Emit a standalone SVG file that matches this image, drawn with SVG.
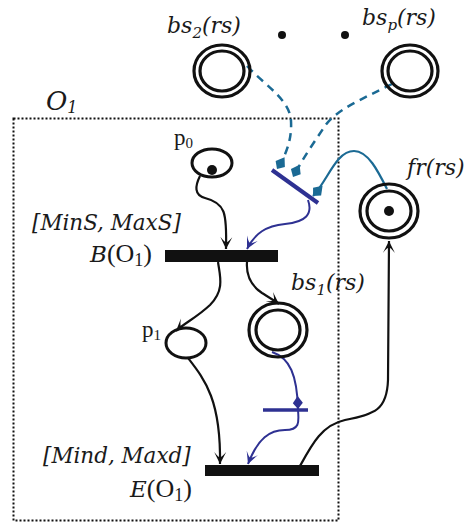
<svg xmlns="http://www.w3.org/2000/svg" width="464" height="523" viewBox="0 0 464 523">
<style>
  .lbl{font-family:'Liberation Serif','Times New Roman',serif;fill:#1a1a1a}
  .it{font-family:'DejaVu Serif',serif;font-style:italic}
  .place{fill:none;stroke:#111;stroke-width:3}
  .dbl{fill:none;stroke:#111;stroke-width:3.2}
  .tok{fill:#111}
  .bar{fill:#111}
  .arc{fill:none;stroke:#111;stroke-width:2.2}
  .blue{fill:none;stroke:#2e3192;stroke-width:2}
  .teal{fill:none;stroke:#1b6a94;stroke-width:2.2}
  .dash{fill:none;stroke:#1b6a94;stroke-width:2.5;stroke-dasharray:8,6}
</style>
<defs>
  <marker id="ahK" viewBox="-13 -7 14 14" refX="0" refY="0" markerWidth="14" markerHeight="14" markerUnits="userSpaceOnUse" orient="auto">
    <path d="M0,0 L-12,-6 Q-6,-1 -7,0 Q-6,1 -12,6 Z" fill="#111"/>
  </marker>
  <marker id="ahB" viewBox="-13 -7 14 14" refX="0" refY="0" markerWidth="14" markerHeight="14" markerUnits="userSpaceOnUse" orient="auto">
    <path d="M0,0 L-12,-6 Q-6,-1 -7,0 Q-6,1 -12,6 Z" fill="#2e3192"/>
  </marker>
  <marker id="dmT" viewBox="-15 -7 16 14" refX="0" refY="0" markerWidth="16" markerHeight="14" markerUnits="userSpaceOnUse" orient="auto">
    <path d="M0,0 L-6,-5.5 L-14,0 L-6,5.5 Z" fill="#1b6a94"/>
  </marker>
  <marker id="dmB" viewBox="-15 -7 16 14" refX="0" refY="0" markerWidth="16" markerHeight="14" markerUnits="userSpaceOnUse" orient="auto">
    <path d="M0,0 L-6,-5 L-13,0 L-6,5 Z" fill="#2e3192"/>
  </marker>
</defs>

<g id="O1-box">
  <rect x="13.5" y="118.5" width="325" height="402" fill="none" stroke="#111" stroke-width="2" stroke-dasharray="2,2"/>
  <text class="lbl it" x="46" y="110" font-size="26">O<tspan font-size="16" dy="3">1</tspan></text>
</g>

<g id="connectors">
  <path class="dash" d="M247,66 C266,86 290,100 291,121 C292,140 286,155 277,169" marker-end="url(#dmT)"/>
  <path class="dash" d="M392,84 C362,99 336,110 325,126 C314,142 302,160 293,177" marker-end="url(#dmT)"/>
  <path class="teal" d="M387,189 C378,171 368,151 354,151 C336,151 328,180 313,196" marker-end="url(#dmT)"/>
  <line x1="272" y1="170" x2="318" y2="203" stroke="#2e3192" stroke-width="4"/>
  <path class="blue" d="M308,200 C313,214 306,222 285,224 C266,226 255,233 247,249" marker-end="url(#ahB)"/>
  <path class="arc" d="M200,176 C195,186 194,195 205,198 C225,203 227,212 226,249" marker-end="url(#ahK)"/>
  <path class="arc" d="M218,262 C220,276 225,290 210,305 C196,318 186,322 176,331" marker-end="url(#ahK)"/>
  <path class="arc" d="M247,262 C246,275 250,285 262,293 C270,298 275,301 279,304" marker-end="url(#ahK)"/>
  <path class="arc" d="M188,358 C205,380 221,400 220,464" marker-end="url(#ahK)"/>
  <path class="blue" d="M272,352 C290,358 297,375 298,409" marker-end="url(#dmB)"/>
  <line x1="263" y1="410" x2="308" y2="410" stroke="#2e3192" stroke-width="3.5"/>
  <path class="blue" d="M298,410 C299,422 300,430 285,430 C270,430 258,438 248,464" marker-end="url(#ahB)"/>
  <path class="arc" d="M300,466 C312,444 322,425 345,420 C375,414 387,410 388,380 L389,241" marker-end="url(#ahK)"/>
</g>

<g id="bs2">
  <ellipse class="dbl" cx="222" cy="71" rx="28" ry="26"/>
  <ellipse class="dbl" cx="222" cy="71" rx="22" ry="20"/>
  <text class="lbl it" x="167" y="33" font-size="22">bs<tspan font-size="15" dy="5">2</tspan><tspan dy="-5">(rs)</tspan></text>
</g>
<g id="dots">
  <circle class="tok" cx="282" cy="35" r="4"/>
  <circle class="tok" cx="345" cy="35" r="4"/>
</g>
<g id="bsp">
  <ellipse class="dbl" cx="410" cy="71" rx="28" ry="26"/>
  <ellipse class="dbl" cx="410" cy="71" rx="22" ry="20"/>
  <text class="lbl it" x="362" y="25" font-size="22">bs<tspan font-size="15" dy="5">p</tspan><tspan dy="-5">(rs)</tspan></text>
</g>
<g id="p0">
  <ellipse class="place" cx="212" cy="163" rx="20" ry="14"/>
  <circle class="tok" cx="212" cy="170" r="5"/>
  <text class="lbl" x="174" y="145" font-size="23">p<tspan font-size="15" dy="3">0</tspan></text>
</g>
<g id="fr">
  <ellipse class="dbl" cx="389" cy="211" rx="29" ry="27"/>
  <ellipse class="dbl" cx="389" cy="211" rx="22" ry="20"/>
  <circle class="tok" cx="389" cy="211" r="5"/>
  <text class="lbl it" x="407" y="175" font-size="22">fr(rs)</text>
</g>
<g id="B">
  <rect class="bar" x="165" y="250" width="113" height="12"/>
  <text class="lbl it" x="32" y="230" font-size="21.5">[MinS, MaxS]</text>
  <text class="lbl" x="90" y="262" font-size="26"><tspan class="it" font-size="23">B</tspan>(O<tspan font-size="18" dy="4">1</tspan><tspan dy="-4">)</tspan></text>
</g>
<g id="p1">
  <ellipse class="place" cx="186" cy="343" rx="20" ry="15"/>
  <text class="lbl" x="142" y="337" font-size="23">p<tspan font-size="15" dy="3">1</tspan></text>
</g>
<g id="bs1">
  <ellipse class="dbl" cx="278" cy="330" rx="29" ry="27"/>
  <ellipse class="dbl" cx="278" cy="330" rx="22" ry="20"/>
  <text class="lbl it" x="291" y="290" font-size="22">bs<tspan font-size="15" dy="5">1</tspan><tspan dy="-5">(rs)</tspan></text>
</g>
<g id="E">
  <rect class="bar" x="205" y="465" width="114" height="11"/>
  <text class="lbl it" x="43" y="463" font-size="21.5">[Mind, Maxd]</text>
  <text class="lbl" x="130" y="497" font-size="26"><tspan class="it" font-size="23">E</tspan>(O<tspan font-size="18" dy="4">1</tspan><tspan dy="-4">)</tspan></text>
</g>
</svg>
